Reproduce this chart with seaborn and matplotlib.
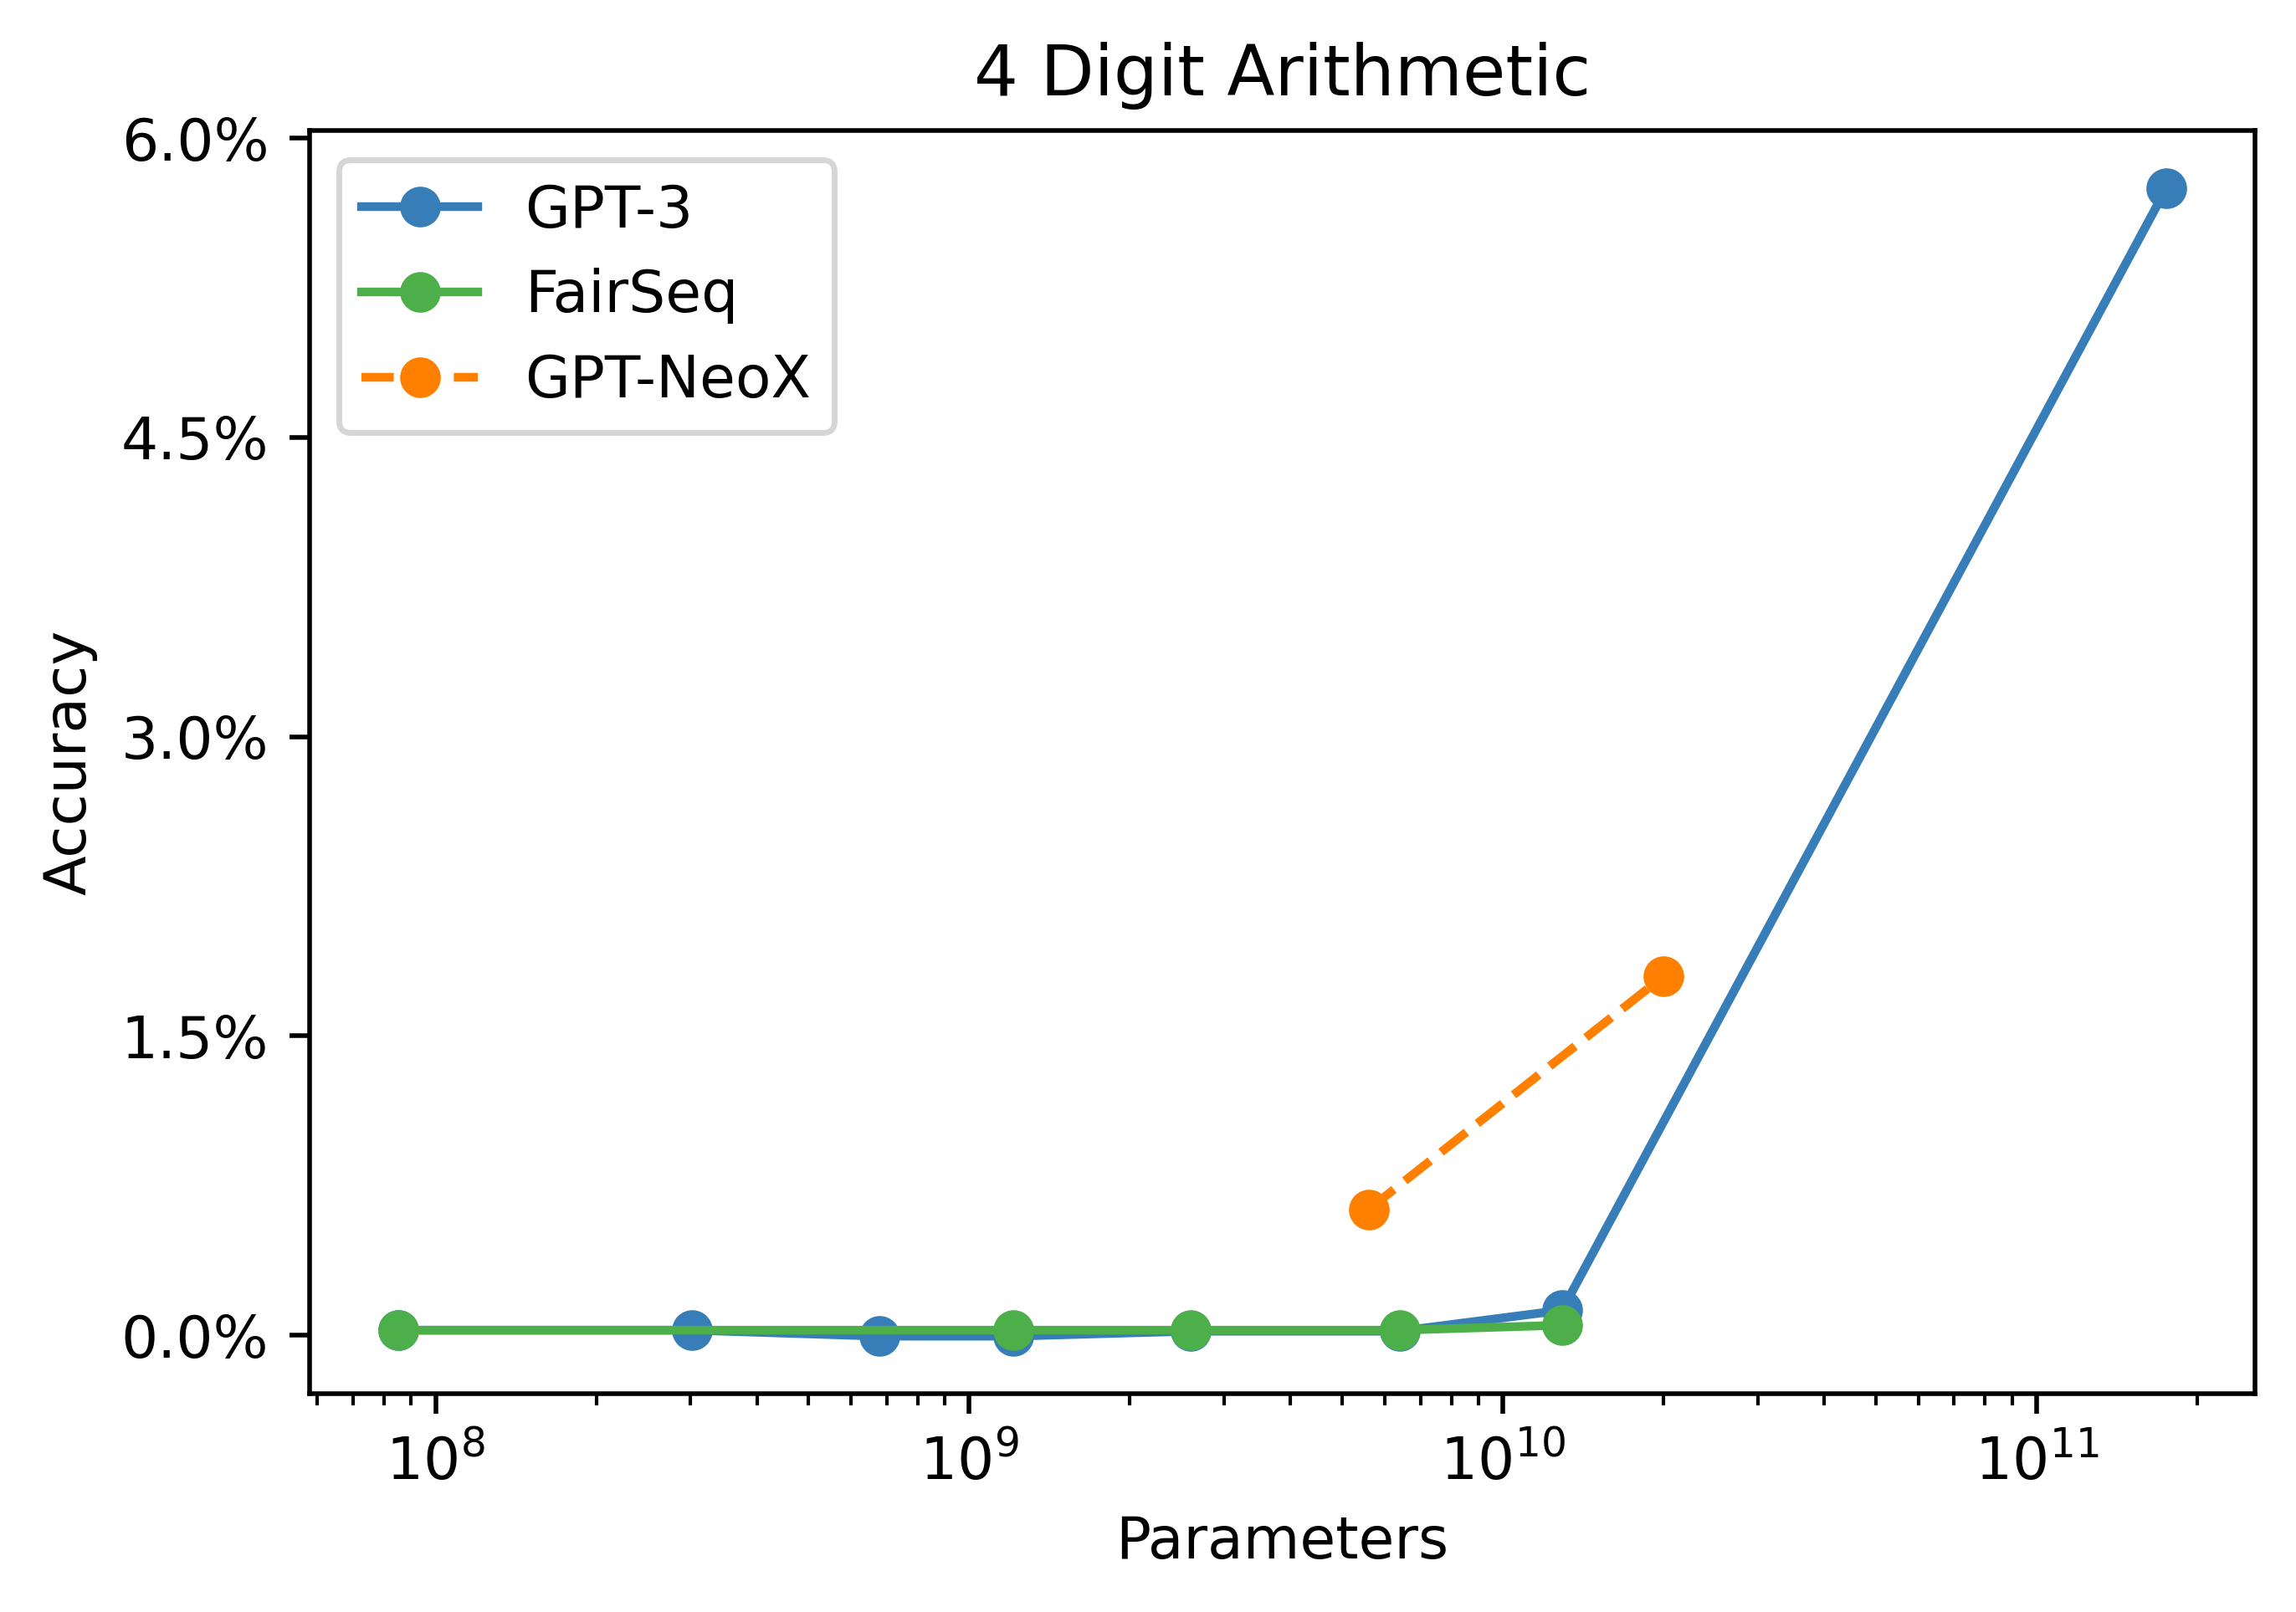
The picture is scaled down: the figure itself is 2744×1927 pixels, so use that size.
import numpy as np
import pandas as pd
import seaborn as sns
import matplotlib.pyplot as plt
from matplotlib.ticker import PercentFormatter

# parameter counts and accuracy (%)
gpt3_params = [85e6, 302e6, 679e6, 1.21e9, 2.6e9, 6.4e9, 12.9e9, 175e9]
gpt3_acc = [0.025, 0.025, -0.005, -0.005, 0.02, 0.02, 0.125, 5.75]

fairseq_params = [85e6, 1.21e9, 2.6e9, 6.4e9, 12.9e9]
fairseq_acc = [0.025, 0.025, 0.025, 0.025, 0.05]

neox_params = [5.6e9, 20e9]
neox_acc = [0.63, 1.80]

yticks = [0.0, 1.5, 3.0, 4.5, 6.0]

df_gpt3 = pd.DataFrame({"params": gpt3_params, "acc": gpt3_acc})
df_fairseq = pd.DataFrame({"params": fairseq_params, "acc": fairseq_acc})
df_neox = pd.DataFrame({"params": neox_params, "acc": neox_acc})

fig = plt.figure(figsize=(5.488, 3.854), dpi=500)
ax = fig.add_axes([0.1348, 0.1355, 0.8473, 0.7835])

line_kw = dict(marker="o", markersize=7, markeredgewidth=0, linewidth=1.5)
sns.lineplot(data=df_gpt3, x="params", y="acc", ax=ax, color="#377eb8",
             label="GPT-3", **line_kw)
sns.lineplot(data=df_fairseq, x="params", y="acc", ax=ax, color="#4daf4a",
             label="FairSeq", **line_kw)
sns.lineplot(data=df_neox, x="params", y="acc", ax=ax, color="#ff7f00",
             linestyle="--", label="GPT-NeoX", **line_kw)

ax.set_xscale("log")
ax.set_yticks(yticks)
ax.yaxis.set_major_formatter(PercentFormatter(xmax=100, decimals=1))
ax.set_xlabel("Parameters")
ax.set_ylabel("Accuracy")
ax.set_title("4 Digit Arithmetic")
ax.legend(loc="upper left")

fig.savefig("out.png")
